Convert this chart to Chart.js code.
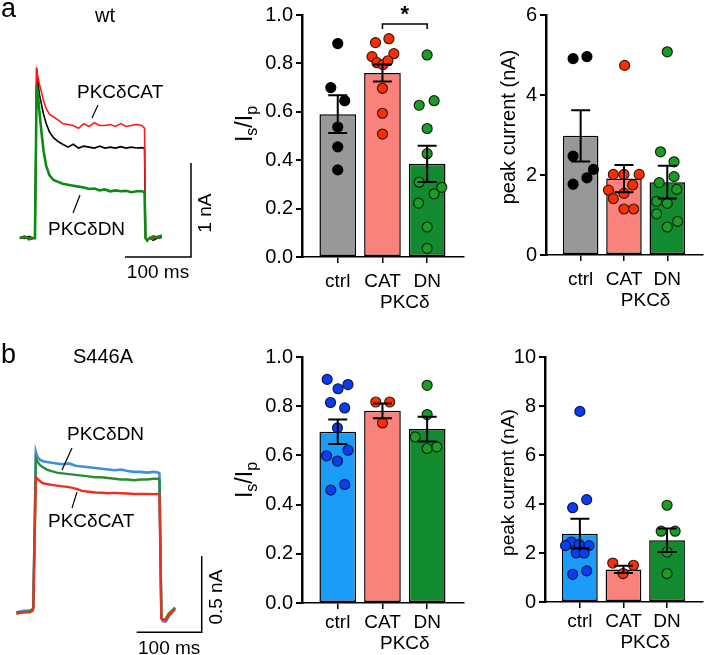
<!DOCTYPE html>
<html>
<head>
<meta charset="utf-8">
<script src="https://cdn.jsdelivr.net/npm/chart.js@4.4.1/dist/chart.umd.min.js"></script>
<style>
  html, body { margin: 0; padding: 0; background: #fff; }
  #fig { position: relative; width: 709px; height: 655px; overflow: hidden; }
  canvas { position: absolute; }
</style>
</head>
<body>
<div id="fig">
  <canvas id="traceA" width="230" height="320" style="left:0;top:0"></canvas>
  <canvas id="ratioA" width="265" height="320" style="left:205px;top:0"></canvas>
  <canvas id="peakA" width="239" height="320" style="left:470px;top:0"></canvas>
  <canvas id="traceB" width="230" height="325" style="left:0;top:330px"></canvas>
  <canvas id="ratioB" width="265" height="325" style="left:205px;top:330px"></canvas>
  <canvas id="peakB" width="239" height="325" style="left:470px;top:330px"></canvas>
</div>
<script>
const groups = ["ctrl", "CAT", "DN"];
const groupTitle = "PKCδ";

// a: wt, steady/peak ratio
const wtRatioMean = [0.59, 0.76, 0.385];
const wtRatioSem = [0.078, 0.035, 0.075];
const wtRatioCtrl = [0.882, 0.70, 0.646, 0.537, 0.455, 0.36];
const wtRatioCat = [0.886, 0.902, 0.840, 0.828, 0.803, 0.795, 0.811, 0.697, 0.594, 0.508];
const wtRatioDn = [0.835, 0.627, 0.646, 0.531, 0.427, 0.309, 0.288, 0.261, 0.223, 0.124, 0.036];

// a: wt, peak current (nA)
const wtPeakMean = [2.98, 1.91, 1.82];
const wtPeakSem = [0.64, 0.34, 0.41];
const wtPeakCtrl = [4.91, 4.96, 2.47, 2.14, 1.93, 1.77];
const wtPeakCat = [4.74, 2.015, 2.015, 2.015, 1.62, 1.54, 1.75, 1.41, 1.15, 1.15];
const wtPeakDn = [5.08, 2.58, 2.33, 1.81, 1.96, 1.64, 1.34, 1.29, 1.03, 0.84, 0.70];

// b: S446A, steady/peak ratio
const mutRatioMean = [0.696, 0.781, 0.707];
const mutRatioSem = [0.05, 0.03, 0.05];
const mutRatioCtrl = [0.909, 0.871, 0.888, 0.815, 0.793, 0.712, 0.598, 0.577, 0.621, 0.482, 0.459];
const mutRatioCat = [0.817, 0.817, 0.732];
const mutRatioDn = [0.885, 0.766, 0.675, 0.635, 0.628];

// b: S446A, peak current (nA)
const mutPeakMean = [2.79, 1.33, 2.52];
const mutPeakSem = [0.61, 0.15, 0.48];
const mutPeakCtrl = [7.78, 3.85, 4.18, 2.45, 2.3, 2.35, 2.3, 2.0, 2.0, 1.13, 1.27];
const mutPeakCat = [1.59, 1.50, 1.16];
const mutPeakDn = [3.95, 2.89, 2.89, 2.04, 1.16];

// example traces, a (ms, nA)
const tA = [-23, -16, -9, -3, 0, 2.5, 5, 7, 10, 13, 17, 22, 28, 35, 42, 50, 58, 66, 74, 82, 90, 98,
  106, 114, 122, 130, 138, 146, 154, 162, 166, 167.5, 170, 174, 179, 185, 192];
const wtCtrlTrace = [0.01, 0.0, 0.02, 0.0, 0.0, 1.81, 1.62, 1.52, 1.42, 1.32, 1.22, 1.13, 1.07, 1.03, 1.0,
  0.97, 1.0, 0.96, 0.98, 0.97, 0.96, 0.98, 0.96, 0.97, 0.96, 0.975, 0.96, 0.97, 0.96, 0.965, 0.96,
  0.0, -0.03, 0.01, -0.02, 0.0, 0.01];
const wtCatTrace = [0.0, 0.01, 0.0, 0.01, 0.0, 1.78, 1.70, 1.63, 1.55, 1.46, 1.38, 1.32, 1.29, 1.26, 1.22,
  1.21, 1.20, 1.17, 1.22, 1.19, 1.23, 1.20, 1.20, 1.21, 1.19, 1.22, 1.19, 1.20, 1.21, 1.20, 1.17,
  0.02, -0.02, 0.0, -0.01, 0.02, 0.03];
const wtDnTrace = [0.0, 0.02, -0.01, 0.0, 0.0, 1.63, 1.48, 1.33, 1.12, 0.93, 0.77, 0.67, 0.62, 0.60, 0.58,
  0.57, 0.56, 0.55, 0.54, 0.525, 0.53, 0.51, 0.52, 0.50, 0.51, 0.50, 0.505, 0.49, 0.50, 0.50, 0.49,
  0.0, -0.02, 0.0, 0.02, 0.01, 0.03];

// example traces, b (ms, nA)
const tB = [-26, -15, -5, -1, 0, 4, 6, 10, 15, 21, 28, 36, 45, 55, 65, 75, 85, 95, 105, 115, 125, 135,
  145, 155, 165, 175, 185, 192, 194, 197, 200, 204, 208, 213, 218];
const mutCtrlTrace = [0.0, 0.01, 0.01, 0.02, 0.03, 1.05, 1.02, 1.0, 0.99, 0.985, 0.98, 0.975, 0.97, 0.975,
  0.96, 0.955, 0.95, 0.945, 0.94, 0.935, 0.93, 0.935, 0.925, 0.92, 0.92, 0.915, 0.92, 0.915, 0.91,
  -0.04, -0.06, -0.06, -0.03, 0.0, 0.03];
const mutDnTrace = [0.0, 0.0, 0.01, 0.02, 0.03, 1.01, 0.99, 0.965, 0.95, 0.935, 0.925, 0.915, 0.91, 0.905,
  0.9, 0.895, 0.89, 0.885, 0.885, 0.88, 0.875, 0.87, 0.87, 0.865, 0.87, 0.87, 0.875, 0.875, 0.87,
  -0.04, -0.05, -0.04, -0.01, 0.01, 0.03];
const mutCatTrace = [-0.01, 0.0, 0.0, 0.01, 0.03, 0.888, 0.875, 0.86, 0.845, 0.84, 0.835, 0.83, 0.825, 0.82,
  0.81, 0.795, 0.79, 0.785, 0.783, 0.78, 0.782, 0.78, 0.778, 0.775, 0.776, 0.775, 0.774, 0.775, 0.77,
  -0.04, -0.05, -0.05, -0.02, 0.0, 0.02];

// horizontal scatter offsets of the dots, in pixels from the bar centre
const wtRatioSpread = [
  [0, -7, 7, 0, 0, 0],
  [-7, 6.5, 11.5, -10.5, -5.5, 0.5, 5.5, 0, 0, 0],
  [0, -8, 7, 0, 0, -8, 14.7, 7, -8.7, 0, 0]
];
const wtPeakSpread = [
  [-7.8, 6.5, -7.8, 13.2, 6.5, -7.8],
  [0.7, -11, 0, 15.7, -16, 0, 9, -11, 0, 10],
  [0, -7, 7, -8.3, 7, 9.7, -11, 0, -11, 10.7, 0]
];
const mutRatioSpread = [
  [-10.7, 0.3, 10.3, -7.3, 7, -0.3, -11.3, -0.3, 10.3, 7, -7],
  [-6.7, 7.3, 0],
  [0, 0, -12, 9.7, 0]
];
const mutPeakSpread = [
  [0, -7.4, 7, -8.7, -14.7, -0.7, 9.3, -3.7, 4.3, -7.4, 7],
  [-11, 10.3, -0.4],
  [0, -6, 8.3, 0, 0]
];

const FONT = '"Liberation Sans", Arial, Helvetica, sans-serif';
Chart.defaults.font.family = FONT;
Chart.defaults.font.size = 20;
Chart.defaults.color = '#000';
Chart.defaults.animation = false;
Chart.defaults.plugins.legend.display = false;
Chart.defaults.plugins.tooltip.enabled = false;

function barDecor(cfg) {
  return {
    id: 'barDecor',
    afterDatasetsDraw(chart) {
      const { ctx, chartArea: a, scales: { x, y } } = chart;
      ctx.save();
      // SEM bars
      ctx.strokeStyle = '#000';
      ctx.lineWidth = 2;
      cfg.mean.forEach((m, i) => {
        const px = x.getPixelForValue(i);
        const top = y.getPixelForValue(m + cfg.sem[i]);
        const bot = y.getPixelForValue(m - cfg.sem[i]);
        ctx.beginPath();
        ctx.moveTo(px, top); ctx.lineTo(px, bot);
        ctx.moveTo(px - 9.5, top); ctx.lineTo(px + 9.5, top);
        ctx.moveTo(px - 9.5, bot); ctx.lineTo(px + 9.5, bot);
        ctx.stroke();
      });
      // group labels
      ctx.fillStyle = '#000';
      ctx.textAlign = 'center';
      ctx.textBaseline = 'middle';
      ctx.font = '19px ' + FONT;
      groups.forEach((g, i) => ctx.fillText(g, x.getPixelForValue(i), a.bottom + cfg.labelGap));
      ctx.fillText(groupTitle, (x.getPixelForValue(1) + x.getPixelForValue(2)) / 2, a.bottom + cfg.titleGap);
      // y title
      ctx.save();
      ctx.translate(a.left - cfg.yTitleOff, (a.top + a.bottom) / 2 + cfg.yTitleShift);
      ctx.rotate(-Math.PI / 2);
      ctx.textAlign = 'left';
      ctx.textBaseline = 'alphabetic';
      const main = cfg.yTitleSize + 'px ' + FONT, sub = Math.round(cfg.yTitleSize * 0.7) + 'px ' + FONT;
      let total = 0;
      cfg.yTitle.forEach(s => { ctx.font = s.sub ? sub : main; total += ctx.measureText(s.t).width + (s.gap || 0); });
      let pos = -total / 2;
      cfg.yTitle.forEach(s => {
        ctx.font = s.sub ? sub : main;
        ctx.fillText(s.t, pos, s.sub ? 5 : 0);
        pos += ctx.measureText(s.t).width + (s.gap || 0);
      });
      ctx.restore();
      // significance bracket
      if (cfg.sig) {
        const x1 = x.getPixelForValue(cfg.sig.from), x2 = x.getPixelForValue(cfg.sig.to);
        const yb = y.getPixelForValue(cfg.sig.at);
        ctx.lineWidth = 1.5;
        ctx.beginPath();
        ctx.moveTo(x1, yb + 5); ctx.lineTo(x1, yb); ctx.lineTo(x2, yb); ctx.lineTo(x2, yb + 5);
        ctx.stroke();
        ctx.font = 'bold 22px ' + FONT;
        ctx.textAlign = 'center';
        ctx.textBaseline = 'middle';
        ctx.fillText(cfg.sig.label, (x1 + x2) / 2, yb - 9);
      }
      ctx.restore();
    }
  };
}

function barPanel(id, cfg) {
  const el = document.getElementById(id);
  const xMin = -0.8, xMax = 2.82;
  const unit = (el.width - cfg.axisW - cfg.padR) / (xMax - xMin);
  const datasets = [{
    type: 'bar',
    data: cfg.mean.map((m, i) => ({ x: i, y: m })),
    backgroundColor: cfg.barColors,
    borderColor: '#000',
    borderWidth: 1.5,
    borderSkipped: false,
    barPercentage: 0.82,
    categoryPercentage: 1,
    order: 2
  }];
  cfg.points.forEach((vals, i) => {
    datasets.push({
      type: 'scatter',
      data: vals.map((v, j) => ({ x: i + cfg.spread[i][j] / unit, y: v })),
      backgroundColor: cfg.dotColors[i],
      borderColor: cfg.dotBorder[i],
      borderWidth: 1.2,
      pointRadius: 5,
      order: 1
    });
  });
  return new Chart(el, {
    type: 'bar',
    data: { datasets },
    options: {
      responsive: false,
      layout: { padding: { top: cfg.padT, right: cfg.padR, left: 0, bottom: 0 } },
      scales: {
        x: {
          type: 'linear', min: xMin, max: xMax, offset: false,
          afterBuildTicks: s => { s.ticks = groups.map((_, i) => ({ value: i })); },
          afterFit: s => { s.height = cfg.axisH; },
          ticks: { display: false },
          grid: { offset: false, drawOnChartArea: false, drawTicks: true, tickLength: 6, color: '#000', lineWidth: 1.5 },
          border: { display: true, color: '#000', width: 1.5 }
        },
        y: {
          min: 0, max: cfg.yMax,
          afterFit: s => { s.width = cfg.axisW; },
          ticks: { stepSize: cfg.yStep, padding: 3, callback: v => v.toFixed(cfg.dec) },
          grid: { drawOnChartArea: false, tickLength: 6, color: '#000', lineWidth: 2 },
          border: { display: true, color: '#000', width: 2.5 }
        }
      }
    },
    plugins: [barDecor(cfg)]
  });
}

const ratioTitle = [{ t: 'I' }, { t: 's', sub: true }, { t: '/' }, { t: 'I' }, { t: 'p', sub: true }];
const peakTitle = [{ t: 'peak current (nA)' }];
const dotEdge = ['#000', '#3a1a10', '#0d2a10'];

barPanel('ratioA', {
  mean: wtRatioMean, sem: wtRatioSem, points: [wtRatioCtrl, wtRatioCat, wtRatioDn], spread: wtRatioSpread,
  barColors: ['#989898', '#f9827c', '#128a30'], dotColors: ['#000', '#ff2e00', '#1a9c26'], dotBorder: dotEdge,
  yMax: 1, yStep: 0.2, dec: 1, axisW: 97, axisH: 63, padT: 13, padR: 5,
  labelGap: 25, titleGap: 46, yTitle: ratioTitle, yTitleSize: 23, yTitleOff: 50, yTitleShift: -12,
  sig: { from: 1, to: 2, at: 0.963, label: '*' }
});
barPanel('peakA', {
  mean: wtPeakMean, sem: wtPeakSem, points: [wtPeakCtrl, wtPeakCat, wtPeakDn], spread: wtPeakSpread,
  barColors: ['#989898', '#f9827c', '#128a30'], dotColors: ['#000', '#ff2e00', '#1a9c26'], dotBorder: dotEdge,
  yMax: 6, yStep: 2, dec: 0, axisW: 76, axisH: 65, padT: 12, padR: 1,
  labelGap: 25, titleGap: 46, yTitle: peakTitle, yTitleSize: 20, yTitleOff: 31, yTitleShift: -8
});
barPanel('ratioB', {
  mean: mutRatioMean, sem: mutRatioSem, points: [mutRatioCtrl, mutRatioCat, mutRatioDn], spread: mutRatioSpread,
  barColors: ['#1a9cf8', '#f9827c', '#128a30'], dotColors: ['#0a3cf0', '#ff2e00', '#1a9c26'], dotBorder: ['#0a1a50', '#3a1a10', '#0d2a10'],
  yMax: 1, yStep: 0.2, dec: 1, axisW: 97, axisH: 52, padT: 27, padR: 5,
  labelGap: 20, titleGap: 41, yTitle: ratioTitle, yTitleSize: 23, yTitleOff: 50, yTitleShift: 0
});
barPanel('peakB', {
  mean: mutPeakMean, sem: mutPeakSem, points: [mutPeakCtrl, mutPeakCat, mutPeakDn], spread: mutPeakSpread,
  barColors: ['#1a9cf8', '#f9827c', '#128a30'], dotColors: ['#0a3cf0', '#ff2e00', '#1a9c26'], dotBorder: ['#0a1a50', '#3a1a10', '#0d2a10'],
  yMax: 10, yStep: 2, dec: 0, axisW: 75, axisH: 53, padT: 27, padR: 2,
  labelGap: 20, titleGap: 41, yTitle: peakTitle, yTitleSize: 19, yTitleOff: 31, yTitleShift: 3
});

function traceDecor(cfg) {
  return {
    id: 'traceDecor',
    afterDraw(chart) {
      const { ctx, scales: { x, y } } = chart;
      ctx.save();
      ctx.fillStyle = '#000';
      ctx.strokeStyle = '#000';
      // panel letter and title
      ctx.textBaseline = 'alphabetic';
      ctx.textAlign = 'left';
      ctx.font = '27px ' + FONT;
      ctx.fillText(cfg.letter, 1, cfg.letterY);
      ctx.textAlign = 'center';
      ctx.font = '20px ' + FONT;
      ctx.fillText(cfg.title, cfg.titleX, cfg.titleY);
      // scale bars
      const b = cfg.bar;
      const cx = x.getPixelForValue(b.t), cy = y.getPixelForValue(b.i);
      const lx = x.getPixelForValue(b.t - b.ms), ty = y.getPixelForValue(b.i + b.nA);
      ctx.lineWidth = 1.5;
      ctx.beginPath();
      ctx.moveTo(lx, cy); ctx.lineTo(cx, cy); ctx.lineTo(cx, ty);
      ctx.stroke();
      ctx.font = '19px ' + FONT;
      ctx.textBaseline = 'middle';
      ctx.fillText(b.msLabel, (lx + cx) / 2, cy + 16);
      ctx.save();
      ctx.translate(cx + 15, (cy + ty) / 2 + 3);
      ctx.rotate(-Math.PI / 2);
      ctx.fillText(b.nALabel, 0, 0);
      ctx.restore();
      // trace labels with leaders
      ctx.textAlign = 'left';
      ctx.lineWidth = 1.2;
      cfg.labels.forEach(l => {
        ctx.fillText(l.text, l.x, l.y);
        ctx.beginPath();
        ctx.moveTo(l.line[0], l.line[1]); ctx.lineTo(l.line[2], l.line[3]);
        ctx.stroke();
      });
      ctx.restore();
    }
  };
}

function tracePanel(id, cfg) {
  return new Chart(document.getElementById(id), {
    type: 'line',
    data: {
      datasets: cfg.traces.map(tr => ({
        data: cfg.time.map((t, i) => ({ x: t, y: tr.values[i] })),
        borderColor: tr.color,
        borderWidth: tr.width,
        pointRadius: 0,
        tension: 0,
        fill: false
      }))
    },
    options: {
      responsive: false,
      layout: { padding: 0 },
      scales: {
        x: { type: 'linear', min: cfg.xRange[0], max: cfg.xRange[1], display: false },
        y: { type: 'linear', min: cfg.yRange[0], max: cfg.yRange[1], display: false }
      }
    },
    plugins: [traceDecor(cfg)]
  });
}

tracePanel('traceA', {
  time: tA, xRange: [-53.0, 295.5], yRange: [-0.869, 2.535],
  traces: [
    { values: wtDnTrace, color: '#0a8c12', width: 2.6 },
    { values: wtCatTrace, color: '#ff1a1a', width: 1.6 },
    { values: wtCtrlTrace, color: '#000', width: 1.6 }
  ],
  letter: 'a', letterY: 17, title: 'wt', titleX: 105, titleY: 22,
  bar: { t: 236.4, i: -0.2, ms: 100, nA: 1, msLabel: '100 ms', nALabel: '1 nA' },
  labels: [
    { text: 'PKCδCAT', x: 77, y: 93, line: [98, 105, 92, 118] },
    { text: 'PKCδDN', x: 48, y: 230, line: [80, 195, 73, 213] }
  ]
});
tracePanel('traceB', {
  time: tB, xRange: [-51.2, 302.5], yRange: [-0.2796, 1.849],
  traces: [
    { values: mutCatTrace, color: '#e8321e', width: 2.4 },
    { values: mutDnTrace, color: '#2a8a3a', width: 2.4 },
    { values: mutCtrlTrace, color: '#3f8fdc', width: 2.6 }
  ],
  letter: 'b', letterY: 33, title: 'S446A', titleX: 103, titleY: 33,
  bar: { t: 259.0, i: -0.131, ms: 100, nA: 0.5, msLabel: '100 ms', nALabel: '0.5 nA' },
  labels: [
    { text: 'PKCδDN', x: 67, y: 105, line: [72, 118, 62, 140] },
    { text: 'PKCδCAT', x: 48, y: 192, line: [77, 162, 72, 178] }
  ]
});
</script>
</body>
</html>
